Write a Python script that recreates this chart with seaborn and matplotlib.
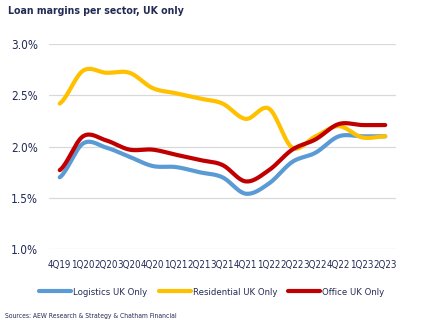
import numpy as np
import pandas as pd
import matplotlib
matplotlib.use("Agg")
import matplotlib.pyplot as plt
import seaborn as sns
from matplotlib.lines import Line2D

quarters = ["4Q19", "1Q20", "2Q20", "3Q20", "4Q20", "1Q21", "2Q21", "3Q21",
            "4Q21", "1Q22", "2Q22", "3Q22", "4Q22", "1Q23", "2Q23"]
logistics = [1.70, 2.03, 1.99, 1.90, 1.81, 1.80, 1.75, 1.70, 1.54, 1.64, 1.85, 1.94, 2.10, 2.10, 2.10]
residential = [2.42, 2.74, 2.72, 2.72, 2.57, 2.52, 2.47, 2.42, 2.27, 2.37, 1.99, 2.10, 2.20, 2.09, 2.10]
office = [1.77, 2.10, 2.06, 1.97, 1.97, 1.92, 1.87, 1.82, 1.66, 1.77, 1.97, 2.07, 2.22, 2.21, 2.21]
series_names = ["Logistics UK Only", "Residential UK Only", "Office UK Only"]
colors = ["#5b9bd5", "#ffc000", "#c00000"]
y_ticks = [1.0, 1.5, 2.0, 2.5, 3.0]

sns.set_theme(style="white")
plt.rcParams["font.family"] = ["DejaVu Sans"]
plt.rcParams["font.stretch"] = "condensed"
navy = "#232b55"


def smooth(y, n=20):
    # Catmull-Rom rendering of the data points (Excel-style smoothed line)
    y = np.asarray(y, float)
    p = np.concatenate([[y[0]], y, [y[-1]]])
    xs, ys = [], []
    for i in range(len(y) - 1):
        p0, p1, p2, p3 = p[i], p[i + 1], p[i + 2], p[i + 3]
        t = np.linspace(0, 1, n, endpoint=False)
        v = 0.5 * ((2 * p1) + (-p0 + p2) * t + (2 * p0 - 5 * p1 + 4 * p2 - p3) * t ** 2
                   + (-p0 + 3 * p1 - 3 * p2 + p3) * t ** 3)
        xs.append(i + t)
        ys.append(v)
    xs.append([len(y) - 1])
    ys.append([y[-1]])
    return np.concatenate(xs), np.concatenate(ys)


rows = []
for name, vals in zip(series_names, [logistics, residential, office]):
    xs, ys = smooth(vals)
    rows.append(pd.DataFrame({"x": xs, "y": ys, "series": name}))
df = pd.concat(rows, ignore_index=True)

fig = plt.figure(figsize=(4.21, 3.29), dpi=100)
ax = fig.add_axes([0.116, 0.243, 0.825, 0.623])
sns.lineplot(data=df, x="x", y="y", hue="series", hue_order=series_names,
             palette=colors, linewidth=3.0, ax=ax, sort=False, estimator=None,
             legend=False)
for line in ax.lines:
    line.set_solid_capstyle("round")
    line.set_solid_joinstyle("round")

ax.set_ylim(1.0, 3.0)
ax.set_xlim(-0.47, 14.47)
ax.set_yticks(y_ticks)
ax.set_yticklabels([f"{v:.1f}%" for v in y_ticks], color=navy, fontsize=8.5)
ax.set_xticks(range(len(quarters)))
ax.set_xticklabels(quarters, color=navy, fontsize=7)
ax.tick_params(axis="y", length=0, pad=8)
ax.tick_params(axis="x", length=0, pad=8)
ax.grid(axis="y", color="#d9d9d9", linewidth=0.9)
ax.set_axisbelow(True)
for s in ax.spines.values():
    s.set_visible(False)
ax.set_xlabel("")
ax.set_ylabel("")

handles = [Line2D([0], [0], color=c, lw=3, solid_capstyle="round") for c in colors]
fig.legend(handles, series_names, loc="center", bbox_to_anchor=(0.503, 0.112),
           ncol=3, frameon=False, fontsize=6.8, handlelength=3.4, handletextpad=0.2,
           columnspacing=1.2, labelcolor=navy)

fig.text(0.02, 0.966, "Loan margins per sector, UK only", fontsize=7.6,
         fontweight="bold", fontstretch="condensed", color=navy, va="center", ha="left")
fig.text(0.012, 0.04, "Sources: AEW Research & Strategy & Chatham Financial", fontsize=4.9,
         color=navy, va="center", ha="left")

fig.savefig("out.png", dpi=100)
